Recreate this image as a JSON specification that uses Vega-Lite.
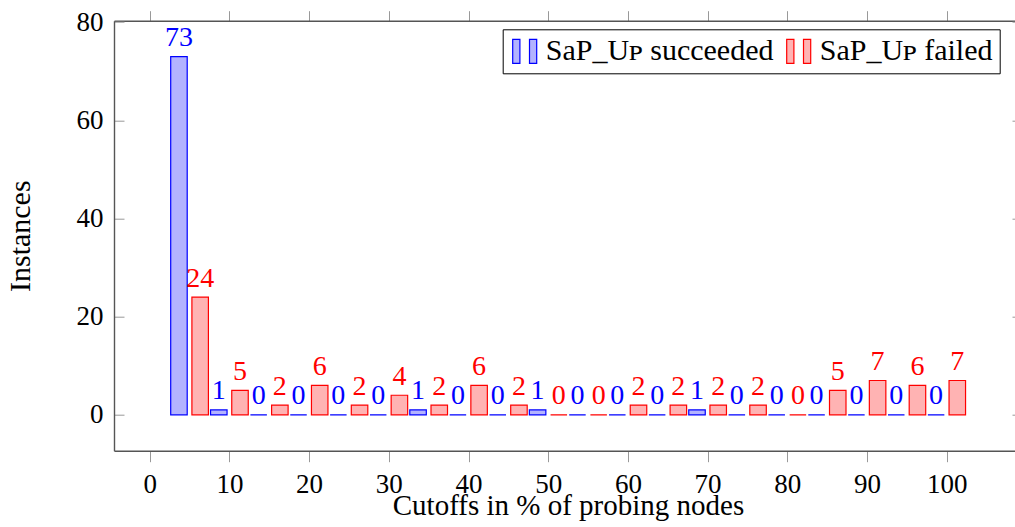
{
  "$schema": "https://vega.github.io/schema/vega-lite/v6.json",
  "width": 901,
  "height": 430,
  "autosize": {"type": "none"},
  "padding": {"left": 114, "top": 20.7, "right": 0, "bottom": 76.3},
  "background": "white",
  "config": {
    "view": {"stroke": null},
    "font": "Liberation Serif",
    "axis": {"grid": false, "domainColor": "#555555", "domainWidth": 1.4, "tickColor": "#999999", "tickWidth": 1, "labelColor": "black", "titleColor": "black", "titleFontWeight": "normal", "labelFont": "Liberation Serif", "titleFont": "Liberation Serif"}
  },
  "data": {
    "values": [
      {"cutoff": 5, "outcome": "SaP_Uᴘ succeeded", "count": 73},
      {"cutoff": 5, "outcome": "SaP_Uᴘ failed", "count": 24},
      {"cutoff": 10, "outcome": "SaP_Uᴘ succeeded", "count": 1},
      {"cutoff": 10, "outcome": "SaP_Uᴘ failed", "count": 5},
      {"cutoff": 15, "outcome": "SaP_Uᴘ succeeded", "count": 0},
      {"cutoff": 15, "outcome": "SaP_Uᴘ failed", "count": 2},
      {"cutoff": 20, "outcome": "SaP_Uᴘ succeeded", "count": 0},
      {"cutoff": 20, "outcome": "SaP_Uᴘ failed", "count": 6},
      {"cutoff": 25, "outcome": "SaP_Uᴘ succeeded", "count": 0},
      {"cutoff": 25, "outcome": "SaP_Uᴘ failed", "count": 2},
      {"cutoff": 30, "outcome": "SaP_Uᴘ succeeded", "count": 0},
      {"cutoff": 30, "outcome": "SaP_Uᴘ failed", "count": 4},
      {"cutoff": 35, "outcome": "SaP_Uᴘ succeeded", "count": 1},
      {"cutoff": 35, "outcome": "SaP_Uᴘ failed", "count": 2},
      {"cutoff": 40, "outcome": "SaP_Uᴘ succeeded", "count": 0},
      {"cutoff": 40, "outcome": "SaP_Uᴘ failed", "count": 6},
      {"cutoff": 45, "outcome": "SaP_Uᴘ succeeded", "count": 0},
      {"cutoff": 45, "outcome": "SaP_Uᴘ failed", "count": 2},
      {"cutoff": 50, "outcome": "SaP_Uᴘ succeeded", "count": 1},
      {"cutoff": 50, "outcome": "SaP_Uᴘ failed", "count": 0},
      {"cutoff": 55, "outcome": "SaP_Uᴘ succeeded", "count": 0},
      {"cutoff": 55, "outcome": "SaP_Uᴘ failed", "count": 0},
      {"cutoff": 60, "outcome": "SaP_Uᴘ succeeded", "count": 0},
      {"cutoff": 60, "outcome": "SaP_Uᴘ failed", "count": 2},
      {"cutoff": 65, "outcome": "SaP_Uᴘ succeeded", "count": 0},
      {"cutoff": 65, "outcome": "SaP_Uᴘ failed", "count": 2},
      {"cutoff": 70, "outcome": "SaP_Uᴘ succeeded", "count": 1},
      {"cutoff": 70, "outcome": "SaP_Uᴘ failed", "count": 2},
      {"cutoff": 75, "outcome": "SaP_Uᴘ succeeded", "count": 0},
      {"cutoff": 75, "outcome": "SaP_Uᴘ failed", "count": 2},
      {"cutoff": 80, "outcome": "SaP_Uᴘ succeeded", "count": 0},
      {"cutoff": 80, "outcome": "SaP_Uᴘ failed", "count": 0},
      {"cutoff": 85, "outcome": "SaP_Uᴘ succeeded", "count": 0},
      {"cutoff": 85, "outcome": "SaP_Uᴘ failed", "count": 5},
      {"cutoff": 90, "outcome": "SaP_Uᴘ succeeded", "count": 0},
      {"cutoff": 90, "outcome": "SaP_Uᴘ failed", "count": 7},
      {"cutoff": 95, "outcome": "SaP_Uᴘ succeeded", "count": 0},
      {"cutoff": 95, "outcome": "SaP_Uᴘ failed", "count": 6},
      {"cutoff": 100, "outcome": "SaP_Uᴘ succeeded", "count": 0},
      {"cutoff": 100, "outcome": "SaP_Uᴘ failed", "count": 7}
    ]
  },
  "resolve": {"axis": {"x": "independent", "y": "independent"}},
  "layer": [
    {
      "transform": [{"filter": {"field": "outcome", "equal": "SaP_Uᴘ succeeded"}}],
      "mark": {"type": "bar", "width": 16.5, "xOffset": -10.6, "strokeWidth": 1.2},
      "encoding": {
        "x": {"field": "cutoff", "type": "quantitative", "scale": {"domain": [-4.48, 108.57], "nice": false, "zero": false, "padding": 0},
          "axis": {"orient": "bottom", "values": [0,10,20,30,40,50,60,70,80,90,100], "tickSize": 11, "labelPadding": 31, "labelBaseline": "alphabetic", "labelFontSize": 27, "labelFlush": false, "labelOverlap": false,
            "title": "Cutoffs in % of probing nodes", "titleFontSize": 29, "titleX": 454, "titleY": 64, "titleBaseline": "alphabetic", "titleAlign": "center", "titleAnchor": null}},
        "y": {"field": "count", "type": "quantitative", "scale": {"domain": [-7.3, 80.3], "nice": false, "zero": false, "padding": 0},
          "axis": {"orient": "left", "values": [0,20,40,60,80], "tickSize": -10, "labelPadding": 21, "labelFontSize": 27, "labelFlush": false, "labelOverlap": false,
            "title": "Instances", "titleFontSize": 30, "titleX": -85, "titleY": 215, "titleAngle": -90, "titleBaseline": "alphabetic", "titleAlign": "center", "titleAnchor": null}},
        "y2": {"datum": 0},
        "fill": {"field": "outcome", "type": "nominal", "scale": {"domain": ["SaP_Uᴘ succeeded", "SaP_Uᴘ failed"], "range": ["#b3b3ff", "#ffb3b3"]},
          "legend": {"orient": "none", "legendX": 388.7, "legendY": 8.6, "direction": "horizontal", "title": null, "symbolType": "M-1,-1H-0.4V1H-1Z M0.4,-1H1V1H0.4Z", "symbolSize": 576, "symbolStrokeWidth": 1.2, "labelFont": "Liberation Serif", "labelFontSize": 30, "labelColor": "black", "labelOffset": 6, "columnPadding": 10, "padding": 7, "strokeColor": "black", "fillColor": "white", "labelLimit": 400}},
        "stroke": {"field": "outcome", "type": "nominal", "scale": {"domain": ["SaP_Uᴘ succeeded", "SaP_Uᴘ failed"], "range": ["#0000ff", "#ff0000"]},
          "legend": {"orient": "none", "legendX": 388.7, "legendY": 8.6, "direction": "horizontal", "title": null, "symbolType": "M-1,-1H-0.4V1H-1Z M0.4,-1H1V1H0.4Z", "symbolSize": 576, "symbolStrokeWidth": 1.2, "labelFont": "Liberation Serif", "labelFontSize": 30, "labelColor": "black", "labelOffset": 6, "columnPadding": 10, "padding": 7, "strokeColor": "black", "fillColor": "white", "labelLimit": 400}}
      }
    },
    {
      "transform": [{"filter": {"field": "outcome", "equal": "SaP_Uᴘ failed"}}],
      "mark": {"type": "bar", "width": 16.5, "xOffset": 10.6, "strokeWidth": 1.2},
      "encoding": {
        "x": {"field": "cutoff", "type": "quantitative",
          "axis": {"orient": "top", "values": [0,10,20,30,40,50,60,70,80,90,100], "tickSize": 10, "labels": false, "title": null}},
        "y": {"field": "count", "type": "quantitative",
          "axis": {"orient": "right", "values": [0,20,40,60,80], "tickSize": -3, "labels": false, "domain": false, "title": null}},
        "y2": {"datum": 0},
        "fill": {"field": "outcome", "type": "nominal"},
        "stroke": {"field": "outcome", "type": "nominal"}
      }
    },
    {
      "transform": [{"filter": {"field": "outcome", "equal": "SaP_Uᴘ succeeded"}}],
      "mark": {"type": "text", "xOffset": -10.6, "dy": -10.5, "baseline": "alphabetic", "align": "center", "fontSize": 28, "font": "Liberation Serif", "color": "#0000ff"},
      "encoding": {
        "x": {"field": "cutoff", "type": "quantitative", "axis": null},
        "y": {"field": "count", "type": "quantitative", "axis": null},
        "text": {"field": "count", "type": "quantitative"}
      }
    },
    {
      "transform": [{"filter": {"field": "outcome", "equal": "SaP_Uᴘ failed"}}],
      "mark": {"type": "text", "xOffset": 10.6, "dy": -10.5, "baseline": "alphabetic", "align": "center", "fontSize": 28, "font": "Liberation Serif", "color": "#ff0000"},
      "encoding": {
        "x": {"field": "cutoff", "type": "quantitative", "axis": null},
        "y": {"field": "count", "type": "quantitative", "axis": null},
        "text": {"field": "count", "type": "quantitative"}
      }
    }
  ]
}
